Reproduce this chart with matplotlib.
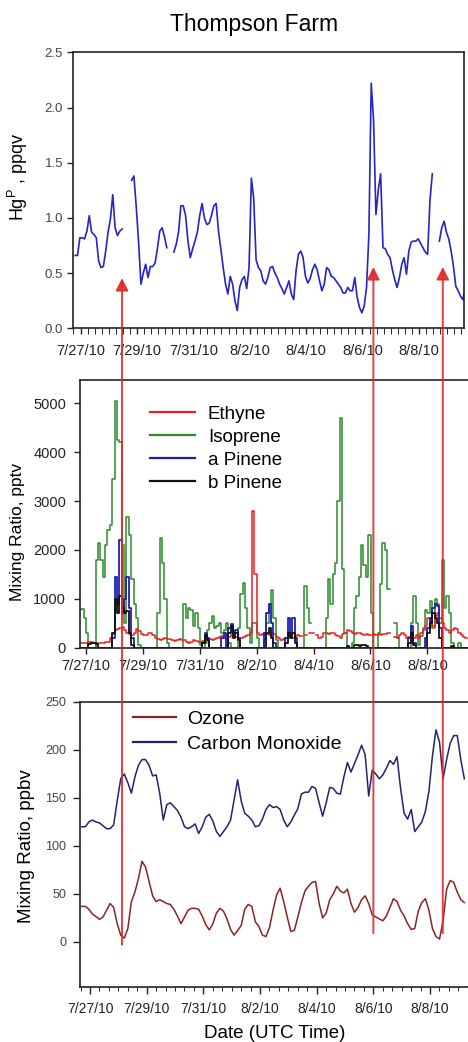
import numpy as np
import matplotlib
matplotlib.use('Agg')
import matplotlib.pyplot as plt
from matplotlib.patches import ConnectionPatch
from matplotlib.transforms import blended_transform_factory
from matplotlib.ticker import FixedLocator, MultipleLocator

plt.rcParams['font.family'] = ['Liberation Sans', 'DejaVu Sans']

nan = np.nan

# ---------------- data ----------------
title = "Thompson Farm"
date_ticks = [0, 2, 4, 6, 8, 10, 12]          # days since 7/27/10
date_labels = ['7/27/10', '7/29/10', '7/31/10', '8/2/10', '8/4/10', '8/6/10', '8/8/10']

# particulate mercury, 2-hourly
hg_start, hg_step = -0.19, 1 / 12
hg = [0.66, 0.66, 0.82, 0.82, 0.81, 0.88, 1.02, 0.87, 0.85, 0.82,
      0.61, 0.55, 0.56, 0.70, 0.87, 0.99, 1.21, 0.91, 0.84, 0.88,
      0.90, nan, nan, nan, 1.34, 1.38, 1.10, 0.78, 0.40, 0.50,
      0.58, 0.46, 0.56, 0.56, 0.59, 0.72, 0.88, 0.91, 0.83, 0.73,
      nan, nan, 0.69, 0.76, 0.87, 1.11, 1.11, 1.02, 0.79, 0.64,
      0.72, 0.79, 0.87, 1.02, 1.13, 1.00, 0.94, 0.95, 1.02, 1.11,
      1.13, 0.88, 0.72, 0.55, 0.40, 0.31, 0.47, 0.40, 0.25, 0.16,
      0.37, 0.44, 0.47, 0.36, 0.55, 1.36, 1.17, 0.62, 0.55, 0.52,
      0.43, 0.40, 0.46, 0.55, 0.56, 0.50, 0.46, 0.40, 0.36, 0.31,
      0.37, 0.43, 0.31, 0.26, 0.52, 0.67, 0.70, 0.64, 0.47, 0.41,
      0.45, 0.53, 0.58, 0.53, 0.43, 0.34, 0.40, 0.55, 0.53, 0.47,
      0.46, 0.43, 0.40, 0.37, 0.32, 0.32, 0.37, 0.34, 0.34, 0.46,
      0.28, 0.19, 0.14, 0.20, 0.37, 0.85, 2.22, 1.88, 1.03, 1.25,
      1.40, 0.73, 0.72, 0.67, 0.64, 0.53, 0.44, 0.37, 0.46, 0.58,
      0.64, 0.49, 0.70, 0.78, 0.79, 0.79, 0.81, 0.77, 0.73, 0.69,
      0.67, 1.16, 1.40, nan, nan, 0.79, 0.91, 0.97, 0.87, 0.81,
      0.70, 0.56, 0.38, 0.34, 0.29, 0.26, 0.37, 0.46]

# VOCs, 2-hourly (pptv)
voc_start, voc_step = -0.205, 1 / 12
isoprene = [775, 780, 600, 300, 0, 0, 0, 1800, 2150, 1800,
            1450, 2100, 2400, 2500, 3450, 5060, 4250, 4200, 2100, 500,
            2680, 2300, 1400, 900, 600, 50, 0, 0, 0, 0,
            0, 0, 0, 700, 2250, 1730, 1000, 100, 0, 0,
            0, 0, 0, 0, 900, 600, 800, 775, 450, 700,
            400, 50, 0, 100, 350, 500, 640, 400, 450, 500,
            300, 350, 500, 100, 0, 0, 0, 400, 1100, 1320,
            800, 400, 100, 500, 500, 200, 0, 0, 160, 500,
            900, 1180, 600, 150, 0, 0, 0, 0, 0, 0,
            0, 0, 0, 0, 0, 1250, 800, 500, nan, 0,
            0, 0, 0, 0, 600, 1400, 900, 1500, 1730, 3000,
            4700, 1600, 300, 0, 0, 100, 800, 1050, 1450, 2100,
            1700, 1450, 2300, 700, 0, 0, 300, 1300, 2150, 2000,
            1200, nan, nan, 500, 200, 0, 0, 0, 0, 0,
            500, 1050, 500, 50, 230, 400, 775, 700, 950, 400,
            1000, 900, 500, 1800, 800, 1050, 700, 100, 0, 0,
            100, 0, 0, 0]
ethyne = [100, 100, 100, 100, 110, 110, 100, 100, 100, 100,
          100, 110, 120, 200, 280, 350, 380, 400, 420, 350,
          300, 280, 250, 300, 380, 330, 280, 250, 250, 300,
          300, 250, 200, 180, 150, 180, 200, 180, 180, 150,
          130, 150, 170, 160, 150, 120, 100, 120, 150, 140,
          120, 120, 130, 160, 200, 170, 150, 170, 200, 220,
          230, 200, 180, 220, 250, 230, 220, 200, 200, 210,
          230, 260, 300, 2800, 1500, 300, 250, 280, 300, 270,
          250, 300, 280, 220, 200, 150, 170, 200, 250, 230,
          200, 230, 250, 230, nan, 250, nan, 300, 300, nan,
          250, 200, 220, 300, 300, 280, 300, 300, 250, 230,
          200, 280, 300, 350, 330, 300, 280, 300, 300, 280,
          250, 280, 250, 250, 280, 250, 280, 250, 270, 280,
          300, nan, nan, 220, 200, 250, 300, 250, 200, 220,
          300, 200, 250, 200, 300, 350, 450, 600, 550, 450,
          650, 700, 600, 500, 400, 350, 300, 350, 400, 380,
          300, 250, 220, 200]
a_pinene = [0, 0, 0, 0, 0, 0, 0, 0, 0, 0,
            0, 0, 0, 0, 200, 1450, 900, 2200, 700, 1000,
            1450, 800, 200, 0, 0, 0, 0, 0, 0, 0,
            0, 0, 0, 0, 0, 0, 0, 0, 0, 0,
            0, 0, 0, 0, 0, 0, 0, 0, 0, 0,
            0, 0, 100, 300, 200, 0, 0, 0, 0, 0,
            200, 300, 0, 400, 480, 300, 350, 200, 0, 0,
            0, 0, 0, 0, 0, 0, 0, 0, 300, 700,
            900, 500, 100, 0, 0, 0, 0, 200, 600, 300,
            600, 200, 0, 0, 0, 0, 0, 0, nan, 0,
            0, 0, 0, 0, 0, 0, 0, 0, 0, 0,
            0, 0, 0, 0, 0, 0, 0, 0, 0, 0,
            0, 0, 0, 0, 0, 0, 0, 0, 0, 0,
            0, nan, nan, 0, 0, 0, 0, 0, 0, 200,
            450, 100, 0, 0, 0, 0, 200, 400, 600, 800,
            900, 850, 400, 0, 0, 0, 0, 0, 0, 0,
            0, 0, 0, 0]
b_pinene = [0, 0, 0, 0, 80, 100, 100, 80, 0, 0,
            0, 0, 0, 0, 300, 1000, 700, 1050, 800, 700,
            750, 300, 50, 0, 0, 0, 0, 0, 0, 0,
            0, 0, 0, 0, 0, 0, 0, 0, 0, 0,
            0, 0, 0, 0, 0, 0, 0, 0, 0, 0,
            0, 0, 100, 250, 150, 0, 0, 0, 0, 0,
            0, 0, 0, 300, 450, 200, 300, 150, 0, 0,
            0, 0, 0, 0, 0, 0, 0, 0, 0, 300,
            400, 200, 0, 0, 0, 0, 0, 100, 300, 200,
            300, 100, 0, 0, 0, 0, 0, 0, nan, 0,
            0, 0, 0, 0, 0, 0, 0, 0, 0, 0,
            0, 0, 0, 30, 0, 0, 50, 50, 30, 50,
            50, 30, 0, 0, 0, 0, 0, 0, 0, 0,
            0, nan, nan, 0, 0, 0, 0, 0, 0, 100,
            300, 50, 0, 0, 0, 0, 0, 300, 500, 700,
            600, 500, 200, 0, 0, 0, 0, 30, 0, 0,
            0, 0, 0, 0]

# ozone and CO, 3-hourly (ppbv)
gas_start, gas_step = -0.29, 1 / 8
ozone = [37, 37, 34, 29, 26.5, 23.5, 26, 33, 40, 36,
         19, 7, 4, 14, 42, 52, 66, 84, 78, 63,
         48, 42, 44, 42, 40, 39, 34, 27, 19, 26,
         33, 35, 35, 34, 27, 18, 12.5, 19, 30, 35,
         32, 24, 13, 7, 12, 17, 34, 39, 37, 21,
         16, 7, 5.6, 15, 33, 49, 56, 42, 26, 11,
         12, 26, 41, 53, 58, 62, 63, 40, 25, 30,
         44, 50, 58, 53, 51, 55, 40, 31, 36, 44,
         48, 40, 28, 26, 24, 22, 27, 36, 45, 42,
         33, 27, 19, 13, 14, 32, 41, 45, 33, 14,
         5.6, 3, 22, 55, 64, 62, 52, 44, 41]
co = [120, 120, 125, 127, 125, 124, 121, 118, 118, 122,
      147, 170, 175, 166, 155, 172, 184, 190, 190, 184,
      173, 174, 155, 127, 143, 145, 141, 137, 130, 120,
      118, 120, 123, 113, 120, 130, 133, 126, 115, 110,
      115, 120, 127, 148, 169, 147, 134, 131, 127, 120,
      121, 128, 138, 143, 140, 141, 138, 127, 120, 125,
      132, 139, 154, 156, 156, 162, 160, 145, 131, 145,
      161, 160, 155, 154, 172, 187, 177, 186, 195, 205,
      195, 152, 179, 175, 170, 174, 181, 189, 185, 193,
      160, 134, 128, 138, 115, 120, 125, 136, 157, 194,
      221, 208, 170, 190, 207, 215, 215, 190, 170]

# highlighted events (ozone minima), arrow from ozone panel up to Hg panel
event_day = [1.13, 10.0, 12.45]
event_base = [-3, 9, 9]
event_tip = [0.455, 0.555, 0.555]

# ---------------- figure ----------------
W, H = 468, 1042
fig = plt.figure(figsize=(W / 100, H / 100), dpi=100)


def px_axes(l, r, t, b):
    return fig.add_axes([l / W, 1 - b / H, (r - l) / W, (b - t) / H])


ax1 = px_axes(72.7, 464, 52.3, 328.3)
ax2 = px_axes(80, 470, 380, 648)
ax3 = px_axes(80, 470, 702, 987)

spine_c = '#222222'
for ax in (ax1, ax2, ax3):
    for s in ax.spines.values():
        s.set_linewidth(1.2)
        s.set_color(spine_c)
    ax.tick_params(direction='out', colors='#222222', width=1.0)

# panel 1: Hg
t_hg = hg_start + hg_step * np.arange(len(hg))
ax1.plot(t_hg, hg, color='#2424c8', lw=1.2)
ax1.set_xlim(-0.277, 13.60)
ax1.set_ylim(0, 2.5)
ax1.yaxis.set_major_locator(FixedLocator([0, 0.5, 1.0, 1.5, 2.0, 2.5]))
ax1.set_yticklabels(['0.0', '0.5', '1.0', '1.5', '2.0', '2.5'])
ax1.xaxis.set_major_locator(FixedLocator(date_ticks))
ax1.xaxis.set_minor_locator(MultipleLocator(0.25))
ax1.set_xticklabels(date_labels)
ax1.tick_params(axis='x', which='both', length=4, pad=7, labelsize=10.5)
ax1.tick_params(axis='y', length=4, pad=3, labelsize=9.5, labelcolor='#444444')
ax1.set_ylabel('Hg$^{\\mathregular{P}}$ , ppqv', fontsize=13)
ax1.yaxis.set_label_coords(-0.109, 0.548)

# panel 2: VOCs
t_voc = voc_start + voc_step * np.arange(len(isoprene))
l_iso, = ax2.plot(t_voc, isoprene, color='#2a8c2a', lw=1.1, drawstyle='steps-mid')
l_eth, = ax2.plot(t_voc, ethyne, color='#e82020', lw=1.1, drawstyle='steps-mid')
l_ap, = ax2.plot(t_voc, a_pinene, color='#2020b0', lw=1.3, drawstyle='steps-mid')
l_bp, = ax2.plot(t_voc, b_pinene, color='#111111', lw=1.3, drawstyle='steps-mid')
ax2.set_xlim(-0.211, 13.50)
ax2.set_ylim(-10, 5480)
ax2.yaxis.set_major_locator(FixedLocator([0, 1000, 2000, 3000, 4000, 5000]))
ax2.set_yticklabels(['0', '1000', '2000', '3000', '4000', '5000'])
ax2.xaxis.set_major_locator(FixedLocator(date_ticks))
ax2.set_xticklabels(date_labels)
ax2.tick_params(axis='x', length=4, pad=4, labelsize=10.5)
ax2.tick_params(axis='y', length=4, pad=6, labelsize=10.5)
ax2.set_ylabel('Mixing Ratio, pptv', fontsize=12.5)
ax2.yaxis.set_label_coords(-0.141, 0.434)
leg2 = ax2.legend([l_eth, l_iso, l_ap, l_bp], ['Ethyne', 'Isoprene', 'a Pinene', 'b Pinene'],
                  loc='upper left', bbox_to_anchor=(0.179, 0.905), frameon=False,
                  fontsize=13.5, handlelength=2.4, handletextpad=0.7, labelspacing=0.32,
                  borderpad=0, borderaxespad=0)
for lh in leg2.get_lines():
    lh.set_linewidth(1.6)

# panel 3: ozone & CO
t_gas = gas_start + gas_step * np.arange(len(ozone))
l_o3, = ax3.plot(t_gas, ozone, color='#8a2424', lw=1.1)
l_co, = ax3.plot(t_gas, co, color='#24246e', lw=1.1)
ax3.set_xlim(-0.353, 13.41)
ax3.set_ylim(-47, 250)
ax3.yaxis.set_major_locator(FixedLocator([0, 50, 100, 150, 200, 250]))
ax3.set_yticklabels(['0', '50', '100', '150', '200', '250'])
ax3.xaxis.set_major_locator(FixedLocator(date_ticks))
ax3.xaxis.set_minor_locator(MultipleLocator(1 / 3))
ax3.set_xticklabels(date_labels)
ax3.tick_params(axis='x', which='major', length=5, pad=6, labelsize=10)
ax3.tick_params(axis='x', which='minor', length=3)
ax3.tick_params(axis='y', length=5, pad=5, labelsize=9, labelcolor='#444444')
ax3.set_ylabel('Mixing Ratio, ppbv', fontsize=13.5)
ax3.yaxis.set_label_coords(-0.115, 0.495)
ax3.set_xlabel('Date (UTC Time)', fontsize=13.5, labelpad=6)
leg3 = ax3.legend([l_o3, l_co], ['Ozone', 'Carbon Monoxide'],
                  loc='upper left', bbox_to_anchor=(0.136, 0.972), frameon=False,
                  fontsize=14, handlelength=2.2, handletextpad=0.6, labelspacing=0.38,
                  borderpad=0, borderaxespad=0)
for lh in leg3.get_lines():
    lh.set_linewidth(1.6)

# title
fig.text(254 / W, 1 - 25 / H, title, ha='center', va='center', fontsize=16.5)

# event arrows spanning all panels
up_tr = blended_transform_factory(ax3.transData, ax1.transData)
for d, b, tip in zip(event_day, event_base, event_tip):
    cp = ConnectionPatch(xyA=(d, b), coordsA=ax3.transData,
                         xyB=(d, tip), coordsB=up_tr,
                         arrowstyle='-|>,head_length=0.75,head_width=0.38',
                         mutation_scale=10, color='#e02a2a', lw=1.4,
                         shrinkA=0, shrinkB=0, zorder=10, alpha=0.9)
    fig.add_artist(cp)

fig.savefig('out.png', dpi=100)
